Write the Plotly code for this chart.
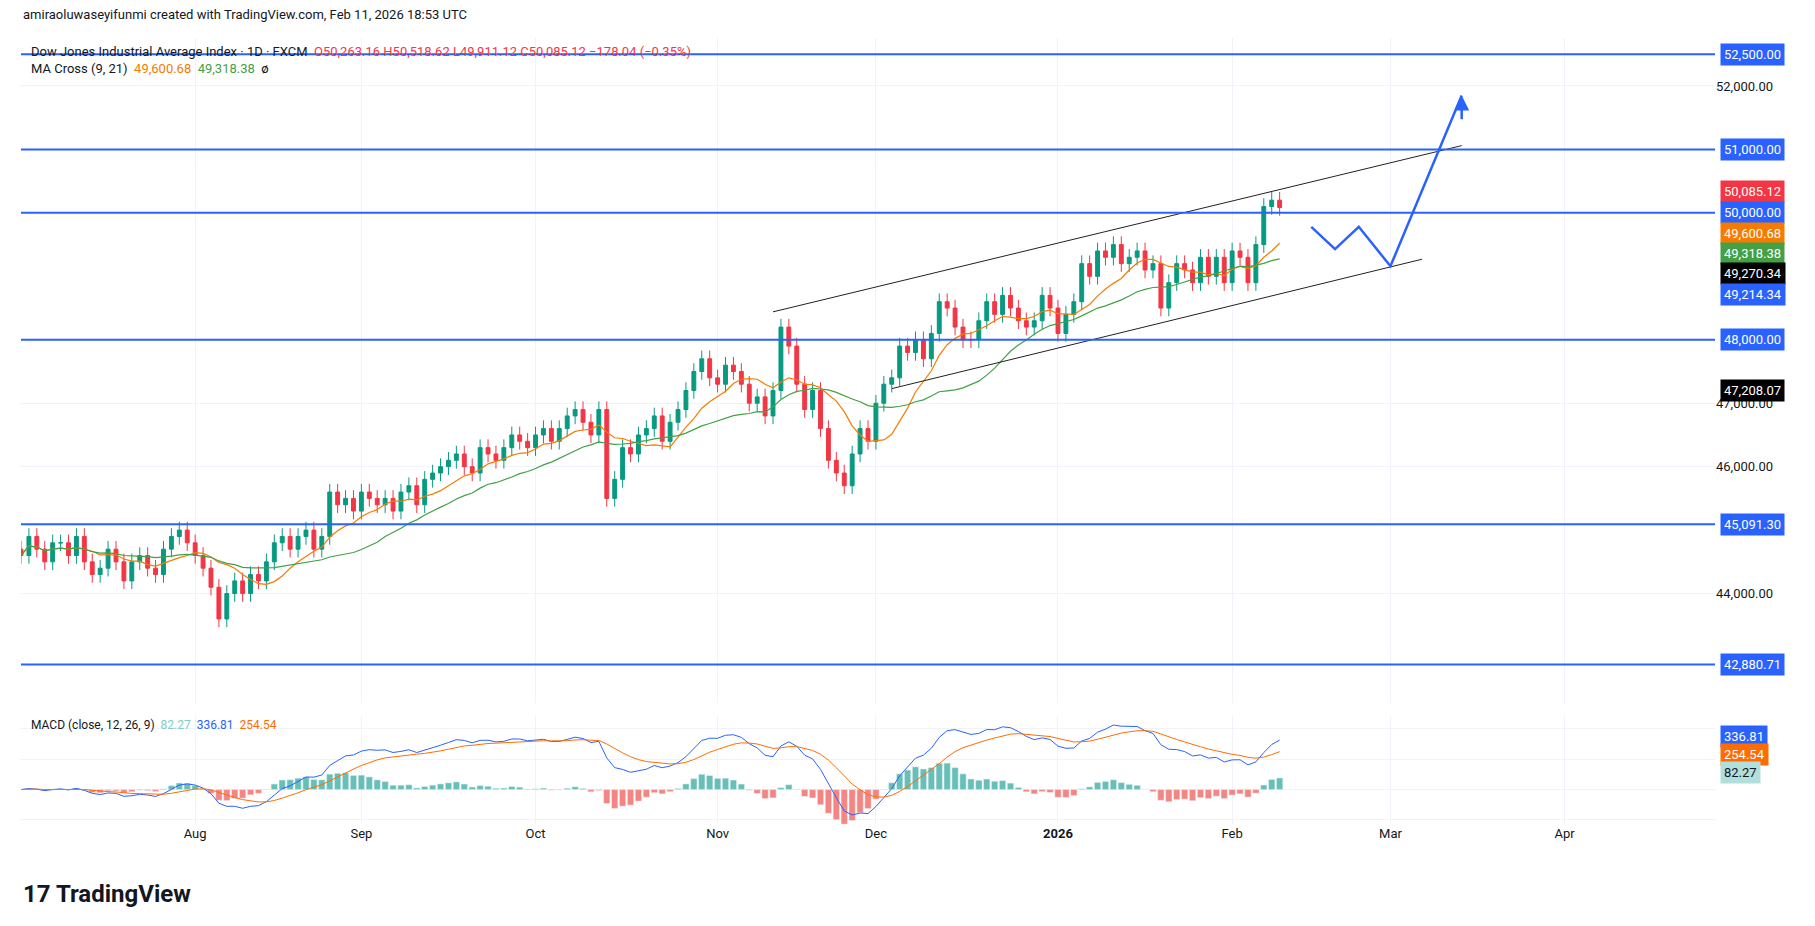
import pandas as pd
import numpy as np
import plotly.graph_objects as go

jul = [44600,44900,44700,44500,44800,44800,44600,44900,44500,44300,44400,44700,44500,44200,44500,44600,44400,44300,44700,44900,45000,44800,44600,44400,44100]
aug = [43600,44000,44200,44000,44300,44200,44500,44800,44900,44700,44900,45000,44700,44900,45600,45400,45500,45300,45600,45500,45400]
sep = [45500,45300,45600,45700,45400,45800,45900,46000,46100,46200,46000,45900,46300,46200,46100,46300,46500,46400,46300,46500,46600,46400]
octo = [46600,46800,46900,46700,46500,46900,45500,45800,46300,46200,46500,46600,46800,46400,46700,46900,47200,47500,47700,47400,47300,47600,47500]
nov = [47300,47000,47100,46800,47200,48200,47900,47300,46900,47200,46600,46100,45900,45700,46200,46600,46400,47000,47300]
dec = [47400,47900,47800,48000,47700,48100,48600,48500,48200,48000,48000,48300,48600,48400,48700,48500,48300,48200,48300,48700,48500,48100]
jan = [48400,48600,49200,49000,49400,49300,49500,49200,49300,49400,49100,49200,48500,48900,49200,49100,48900,49300,49000,49300,48900]
feb = [49400,49300,48900,49500,50100,50200,50085.12]
closes = jul+aug+sep+octo+nov+dec+jan+feb
first_open = 44700
wick = 130

levels = [52500, 51000, 50000, 48000, 45091.30, 42880.71]
arrow_dates = ["2026-02-16","2026-02-19","2026-02-24","2026-03-02","2026-03-13"]
arrow_prices = [49780, 49430, 49780, 49160, 51850]
upper_ch = (["2025-11-12","2026-03-13"], [48440, 51060])
lower_ch = (["2025-12-03","2026-03-06"], [47230, 49270])

dates = pd.bdate_range(end="2026-02-10", periods=len(closes))
c = pd.Series(closes, dtype=float)
o = c.shift(1).fillna(first_open)
h = np.maximum(o, c) + wick
l = np.minimum(o, c) - wick
ma9 = c.rolling(9, min_periods=1).mean()
ma21 = c.rolling(21, min_periods=1).mean()
ema12 = c.ewm(span=12).mean(); ema26 = c.ewm(span=26).mean()
macd = ema12 - ema26; sig = macd.ewm(span=9).mean(); hist = macd - sig

BLUE = "#2962ff"
fig = go.Figure()
fig.add_trace(go.Candlestick(x=dates, open=o, high=h, low=l, close=c,
    increasing=dict(line=dict(color="#089981", width=1), fillcolor="#089981"),
    decreasing=dict(line=dict(color="#f23645", width=1), fillcolor="#f23645"),
    showlegend=False, xaxis="x", yaxis="y"))
fig.add_trace(go.Scatter(x=dates, y=ma9, line=dict(color="#f57c00", width=1.2), showlegend=False))
fig.add_trace(go.Scatter(x=dates, y=ma21, line=dict(color="#43a047", width=1.2), showlegend=False))
for lv in levels:
    fig.add_shape(type="line", xref="paper", x0=0, x1=1, y0=lv, y1=lv, yref="y", line=dict(color=BLUE, width=2))
fig.add_trace(go.Scatter(x=upper_ch[0], y=upper_ch[1], mode="lines", line=dict(color="#222", width=1), showlegend=False))
fig.add_trace(go.Scatter(x=lower_ch[0], y=lower_ch[1], mode="lines", line=dict(color="#222", width=1), showlegend=False))
fig.add_trace(go.Scatter(x=arrow_dates, y=arrow_prices, mode="lines", line=dict(color=BLUE, width=2.5), showlegend=False))
fig.add_annotation(x=arrow_dates[-1], y=arrow_prices[-1], ax=arrow_dates[-1], ay=arrow_prices[-1]-400,
    xref="x", yref="y", axref="x", ayref="y", showarrow=True, arrowhead=2, arrowsize=1.2, arrowwidth=2.5, arrowcolor=BLUE, text="")

hcol = ["#26a69a" if v >= 0 else "#ef5350" for v in hist]
fig.add_trace(go.Bar(x=dates, y=hist, marker_color=hcol, marker_opacity=0.7, xaxis="x2", yaxis="y2", showlegend=False))
fig.add_trace(go.Scatter(x=dates, y=macd, line=dict(color=BLUE, width=1), xaxis="x2", yaxis="y2", showlegend=False))
fig.add_trace(go.Scatter(x=dates, y=sig, line=dict(color="#ff6d00", width=1), xaxis="x2", yaxis="y2", showlegend=False))

xr = ["2025-07-02", "2026-04-28"]
fig.update_layout(
    width=1815, height=926, paper_bgcolor="white", plot_bgcolor="white",
    margin=dict(l=13, r=108, t=30, b=104), font=dict(family="Roboto", size=13, color="#131722"),
    bargap=0.2,
    xaxis=dict(domain=[0,1], range=xr, anchor="y", showticklabels=False, showgrid=True, gridcolor="#f0f3fa",
               rangeslider=dict(visible=False), rangebreaks=[dict(bounds=["sat","mon"])]),
    yaxis=dict(domain=[0.16,1], range=[42271, 52756], side="right", tickvals=[44000,46000,47000,52000],
               ticktext=["44,000.00","46,000.00","47,000.00","52,000.00"], gridcolor="#f0f3fa", showline=False, tickfont=dict(size=13)),
    xaxis2=dict(domain=[0,1], range=xr, anchor="y2", matches="x", showgrid=True, gridcolor="#f0f3fa",
                tickvals=["2025-08-01","2025-09-01","2025-10-01","2025-11-03","2025-12-01","2026-01-01","2026-02-02","2026-03-02","2026-04-01"],
                ticktext=["Aug","Sep","Oct","Nov","Dec","<b>2026</b>","Feb","Mar","Apr"], ticks="", tickfont=dict(size=13),
                rangebreaks=[dict(bounds=["sat","mon"])]),
    yaxis2=dict(domain=[0.007,0.144], range=[-230,485], side="right", showticklabels=False, gridcolor="#f0f3fa", zeroline=False),
)
labels = [(52500,"52,500.00",BLUE,"white"),(51000,"51,000.00",BLUE,"white"),(50330,"50,085.12","#f23645","white"),
          (50000,"50,000.00",BLUE,"white"),(49680,"49,600.68","#f57c00","white"),(49360,"49,318.38","#43a047","white"),
          (49040,"49,270.34","#000","white"),(48720,"49,214.34",BLUE,"white"),(48000,"48,000.00",BLUE,"white"),
          (47208,"47,208.07","#000","white"),(45091.3,"45,091.30",BLUE,"white"),(42880.71,"42,880.71",BLUE,"white")]
for y, t, bg, fc in labels:
    fig.add_annotation(xref="paper", x=1.003, xanchor="left", yref="y", y=y, text=t, showarrow=False,
        bgcolor=bg, font=dict(color=fc, size=13), borderpad=3)
for y, t, bg in [(350,"336.81",BLUE),(230,"254.54","#ff6d00"),(110,"82.27","#b2dfdb")]:
    fig.add_annotation(xref="paper", x=1.003, xanchor="left", yref="y2", y=y, text=t, showarrow=False,
        bgcolor=bg, font=dict(color="white" if bg!="#b2dfdb" else "#131722", size=13), borderpad=3)
fig.add_annotation(xref="paper", yref="paper", x=0, y=1, yshift=14, xanchor="left", yanchor="bottom", showarrow=False,
    text="amiraoluwaseyifunmi created with TradingView.com, Feb 11, 2026 18:53 UTC", font=dict(size=13))
fig.add_annotation(xref="paper", yref="paper", x=0.005, y=1.0, yshift=-4, xanchor="left", yanchor="top", showarrow=False, align="left",
    text="Dow Jones Industrial Average Index · 1D · FXCM  <span style='color:#f23645'>O50,263.16 H50,518.62 L49,911.12 C50,085.12 −178.04 (−0.35%)</span><br>MA Cross (9, 21)  <span style='color:#f57c00'>49,600.68</span>  <span style='color:#43a047'>49,318.38</span>  ø",
    font=dict(size=13))
fig.add_annotation(xref="paper", yref="paper", x=0.005, y=0.144, xanchor="left", yanchor="top", showarrow=False,
    text="MACD (close, 12, 26, 9)  <span style='color:#80cbc4'>82.27</span>  <span style='color:#2962ff'>336.81</span>  <span style='color:#ff6d00'>254.54</span>",
    font=dict(size=12))
fig.add_annotation(xref="paper", yref="paper", x=0, y=-0.06, xanchor="left", yanchor="top", showarrow=False,
    text="<b>17 TradingView</b>", font=dict(size=24, color="#131722"))
fig.write_html("out.html")
